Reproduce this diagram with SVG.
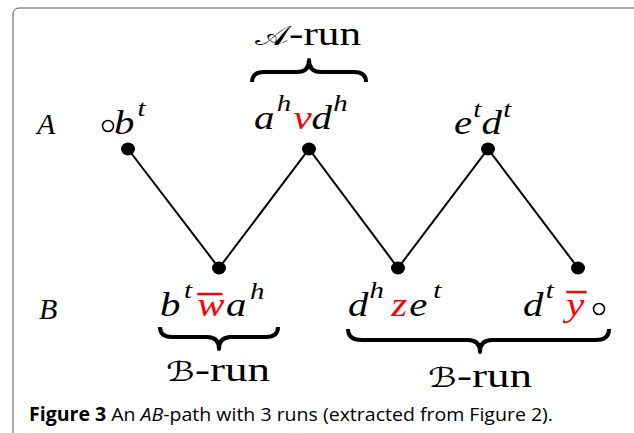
<svg xmlns="http://www.w3.org/2000/svg" width="634" height="433" viewBox="0 0 634 433">
<style>
.m{font-family:"Liberation Serif","Times New Roman",serif;font-style:italic;font-size:34px;fill:#000}
.s{font-family:"Liberation Serif","Times New Roman",serif;font-style:italic;font-size:24px;fill:#000}
.r{fill:#ff0000}
.lab{font-family:"Liberation Serif","Times New Roman",serif;font-style:italic;font-size:30px;fill:#000}
.up{font-family:"Liberation Serif","Times New Roman",serif;font-size:33px;fill:#000}
.cal{font-family:"DejaVu Serif","DejaVu Sans",serif;font-style:normal;font-size:27px}
.dot{fill:#000}
.edge{stroke:#000;stroke-width:2;fill:none}
.brace{stroke:#000;stroke-width:4;fill:none;stroke-linecap:butt;stroke-linejoin:round}
.ov{stroke:#ff0000;stroke-width:2.5}
.hole{fill:none;stroke:#000;stroke-width:1.6}
.cap{font-family:"Open Sans","Noto Sans","Liberation Sans",sans-serif;font-size:19px;fill:#000}
</style>
<rect x="13" y="8" width="640" height="460" rx="6" fill="#fff" stroke="#555" stroke-width="1"/>

<g id="connectors">
<polyline class="edge" points="128,149 219,268 309,149 398,268 488,149 578,268"/>
</g>

<g id="rowlabels">
<text class="lab" x="37" y="134">A</text>
<text class="lab" x="39" y="319">B</text>
</g>

<g id="nodeA1">
<ellipse class="dot" cx="128" cy="149" rx="7" ry="6.5"/>
<circle class="hole" cx="108" cy="126" r="5.5"/>
<g transform="translate(114,134) scale(1.2,1)">
<text class="m" x="0" y="0">b</text>
<text class="s" x="19.5" y="-18">t</text>
</g>
</g>

<g id="nodeA2">
<ellipse class="dot" cx="309" cy="149" rx="7" ry="6.5"/>
<g transform="translate(254,129) scale(1.2,1)">
<text class="m" x="0" y="0">a</text>
<text class="s" x="19" y="-18">h</text>
<text class="m r" x="33" y="0">v</text>
<text class="m" x="48" y="0">d</text>
<text class="s" x="66" y="-18">h</text>
</g>
</g>

<g id="nodeA3">
<ellipse class="dot" cx="488" cy="149" rx="7" ry="6.5"/>
<g transform="translate(454,134) scale(1.2,1)">
<text class="m" x="0" y="0">e</text>
<text class="s" x="16" y="-17">t</text>
<text class="m" x="23" y="0">d</text>
<text class="s" x="41" y="-17">t</text>
</g>
</g>

<g id="nodeB1">
<ellipse class="dot" cx="219" cy="268" rx="7" ry="6.5"/>
<g transform="translate(160,316) scale(1.2,1)">
<text class="m" x="0" y="0">b</text>
<text class="s" x="20" y="-18">t</text>
<line class="ov" x1="31" y1="-22" x2="52" y2="-22"/>
<text class="m r" x="31" y="0">w</text>
<text class="m" x="55" y="0">a</text>
<text class="s" x="75" y="-17">h</text>
</g>
</g>

<g id="nodeB2">
<ellipse class="dot" cx="398" cy="268" rx="7" ry="6.5"/>
<g transform="translate(348,316) scale(1.2,1)">
<text class="m" x="0" y="0">d</text>
<text class="s" x="18" y="-18">h</text>
<text class="m r" x="36" y="0">z</text>
<text class="m" x="51" y="0">e</text>
<text class="s" x="71" y="-18">t</text>
</g>
</g>

<g id="nodeB3">
<ellipse class="dot" cx="578" cy="268" rx="7" ry="6.5"/>
<g transform="translate(523,316) scale(1.2,1)">
<text class="m" x="0" y="0">d</text>
<text class="s" x="19" y="-18">t</text>
<line class="ov" x1="36" y1="-24" x2="53" y2="-24"/>
<text class="m r" x="36" y="0">y</text>
</g>
<circle class="hole" cx="599" cy="309" r="5.5"/>
</g>

<g id="runA">
<path class="brace" d="M252,82 Q252,72 264,72 L297,72 Q309,72 309,60 Q309,72 321,72 L354,72 Q366,72 366,82"/>
<text class="up" x="255" y="45" textLength="106" lengthAdjust="spacingAndGlyphs"><tspan class="cal">𝒜</tspan>-run</text>
</g>

<g id="runB1">
<path class="brace" d="M160,327 Q160,337 172,337 L207,337 Q219,337 219,349 Q219,337 231,337 L266,337 Q278,337 278,327"/>
<text class="up" x="166" y="381" textLength="104" lengthAdjust="spacingAndGlyphs"><tspan class="cal">ℬ</tspan>-run</text>
</g>

<g id="runB2">
<path class="brace" d="M348,329 Q348,340 362,340 L468,340 Q480,340 480,352 Q480,340 492,340 L596,340 Q609,340 609,329"/>
<text class="up" x="428" y="387" textLength="104" lengthAdjust="spacingAndGlyphs"><tspan class="cal">ℬ</tspan>-run</text>
</g>

<g id="caption">
<text class="cap" x="29" y="421" textLength="524" lengthAdjust="spacingAndGlyphs"><tspan font-weight="bold">Figure 3</tspan> An <tspan font-style="italic">AB</tspan>-path with 3 runs (extracted from Figure 2).</text>
</g>
</svg>
